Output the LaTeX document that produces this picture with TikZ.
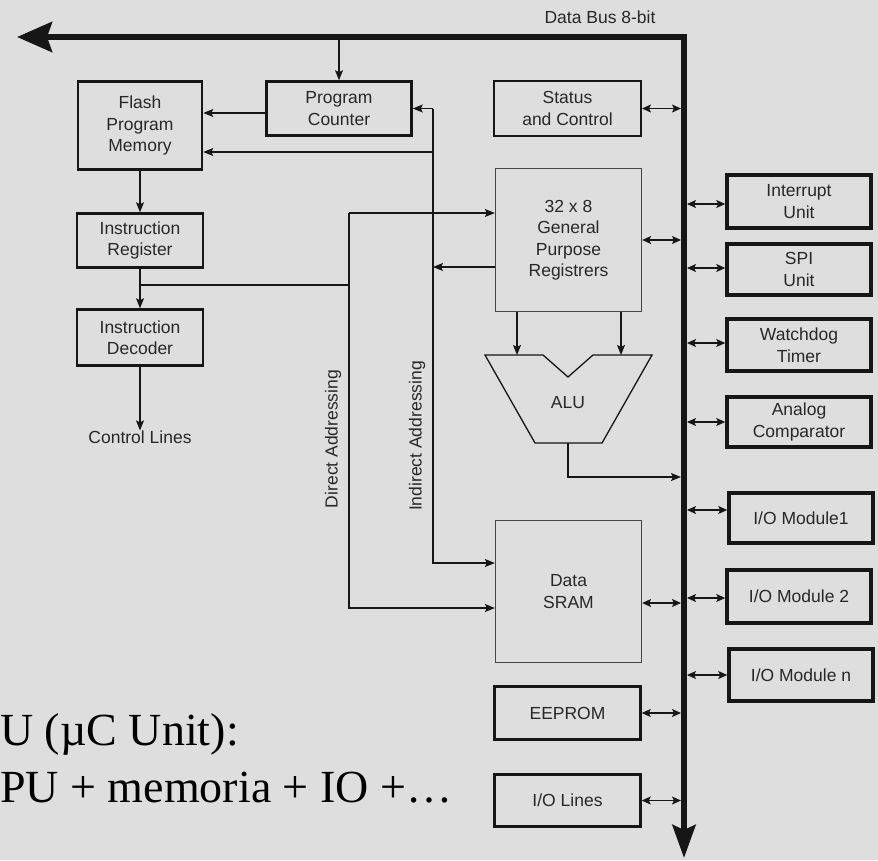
\documentclass[tikz,border=0pt]{standalone}
\usepackage{fontspec}
\newfontfamily\arialf{Liberation Sans}
\newfontfamily\seriff{Liberation Serif}
\usetikzlibrary{arrows.meta}
\definecolor{bg}{RGB}{222,222,222}
\definecolor{ink}{RGB}{22,22,22}
\definecolor{txt}{RGB}{40,40,40}
\begin{document}
\begin{tikzpicture}[x=1pt,y=-1pt,
  lbl/.style={font=\arialf\fontsize{17.5}{21.5}\selectfont, text=txt, align=center, inner sep=0pt},
  box/.style={lbl, draw=ink, line width=2.5pt},
  hbox/.style={lbl, draw=ink, line width=3.5pt},
  tbox/.style={lbl, draw=ink!80, line width=1.3pt},
  conn/.style={draw=ink, line width=1.2pt, -{Stealth[length=10pt,width=8pt,inset=2pt]}},
  plain/.style={draw=ink, line width=1.2pt},
  bid/.style={draw=ink, line width=1.2pt, {Stealth[length=9pt,width=8pt,inset=2pt]}-{Stealth[length=9pt,width=8pt,inset=2pt]}}
]
\useasboundingbox (0,0) rectangle (878,860);
\fill[bg] (0,0) rectangle (878,860);

% data bus
\coordinate (busW) at (17,37);
\coordinate (busC) at (684,37);
\coordinate (busS) at (684,858);
\coordinate (busL) at (681,0);
\coordinate (busR) at (687,0);
\coordinate (busB) at (0,40);
\draw[ink, line width=6pt, line join=miter,
  {Stealth[length=35pt,width=30pt,inset=5pt]}-{Stealth[length=33pt,width=23pt,inset=5pt]}]
  (busW) -- (busC) -- (busS);
\node[lbl] (dbus) at (600,17) {Data Bus 8-bit};

% left column
\node[box, minimum width=124pt, minimum height=88pt] (flash) at (140,125.5) {Flash\\Program\\Memory};
\node[box, minimum width=145pt, minimum height=54pt] (pc) at (339,108.5) {Program\\Counter};
\node[box, minimum width=126pt, minimum height=54pt] (ir) at (140,240.5) {Instruction\\Register};
\node[box, minimum width=126pt, minimum height=56pt] (id) at (140,337.5) {Instruction\\Decoder};
\node[lbl] (ctrl) at (140,437) {Control Lines};

% middle column
\node[box, line width=2pt, minimum width=147pt, minimum height=55pt] (status) at (567.5,108.5) {Status\\and Control};
\node[tbox, minimum width=146pt, minimum height=143pt] (gpr) at (568.5,240) {32 x 8\\General\\Purpose\\Registrers};
\node[tbox, minimum width=146pt, minimum height=142pt] (sram) at (568.5,591.5) {Data\\SRAM};
\node[box, minimum width=146pt, minimum height=53pt] (eeprom) at (567.5,713) {EEPROM};
\node[box, minimum width=146pt, minimum height=52pt] (iolines) at (567.5,800.5) {I/O Lines};

% ALU
\coordinate (aluA) at (485,355);
\coordinate (aluB) at (543,355);
\coordinate (aluN) at (568,377);
\coordinate (aluC) at (593,355);
\coordinate (aluD) at (652,355);
\coordinate (aluE) at (602,443);
\coordinate (aluF) at (535,443);
\draw[ink, line width=1.3pt, line join=miter] (aluA) -- (aluB) -- (aluN) -- (aluC) -- (aluD) -- (aluE) -- (aluF) -- cycle;
\node[lbl] (alu) at (568,403) {ALU};
\coordinate (aluIn1) at (517,355);
\coordinate (aluIn2) at (621,355);
\coordinate (aluOut) at (568,443);
\coordinate (aluBend) at (568,477);

% right column
\node[hbox, minimum width=144pt, minimum height=53pt] (intr) at (799,201.5) {Interrupt\\Unit};
\node[hbox, minimum width=144pt, minimum height=51pt] (spi) at (799,269.5) {SPI\\Unit};
\node[hbox, minimum width=144pt, minimum height=52pt] (wdt) at (799,345) {Watchdog\\Timer};
\node[hbox, minimum width=144pt, minimum height=50pt] (acomp) at (799,422) {Analog\\Comparator};
\node[hbox, minimum width=144pt, minimum height=50pt] (io1) at (801,518) {I/O Module1};
\node[hbox, minimum width=144pt, minimum height=53pt] (io2) at (799,596.5) {I/O Module 2};
\node[hbox, minimum width=144pt, minimum height=52pt] (ion) at (801,675) {I/O Module n};

% addressing labels
\node[lbl, rotate=90] (dal) at (333,439) {Direct Addressing};
\node[lbl, rotate=90] (ial) at (417,436) {Indirect Addressing};

% program flow
\draw[conn] (pc.north |- busB) -- (pc.north);
\draw[conn] ([yshift=-4.5pt]pc.west) -- ([yshift=-4.5pt]pc.west -| flash.east);
\draw[conn] (flash.south) -- (ir.north);
\draw[conn] (ir.south) -- (id.north);
\draw[conn] (id.south) -- (ctrl.north);

% indirect addressing
\coordinate (ia) at (433,108.5);
\coordinate (ib) at (433,152);
\coordinate (ic) at (433,563);
\draw[conn] (ia) -- (pc.east);
\draw[conn] (ib) -- (ib -| flash.east);
\draw[conn] (ia) -- (ic) -- (ic -| sram.west);
\draw[conn] ([yshift=-27pt]gpr.west) -- ([yshift=-27pt]gpr.west -| ia);

% direct addressing
\coordinate (da) at (349,213);
\coordinate (db) at (349,285);
\coordinate (dc) at (349,608);
\coordinate (dj) at (140,285);
\draw[plain] (dj) -- (db);
\draw[conn] (da) -- (da -| gpr.west);
\draw[conn] (da) -- (dc) -- (dc -| sram.west);

% registers to ALU
\draw[conn] (gpr.south -| aluIn1) -- (aluIn1);
\draw[conn] (gpr.south -| aluIn2) -- (aluIn2);
\draw[conn] (aluOut) -- (aluBend) -- (aluBend -| busL);

% bus connections, left side
\draw[bid] (status.east) -- (status.east -| busL);
\draw[bid] (gpr.east) -- (gpr.east -| busL);
\draw[bid] ([yshift=-11.5pt]sram.east) -- ([yshift=-11.5pt]sram.east -| busL);
\draw[bid] (eeprom.east) -- (eeprom.east -| busL);
\draw[bid] (iolines.east) -- (iolines.east -| busL);

% bus connections, right side
\draw[bid] ([yshift=-2.5pt]intr.west) -- ([yshift=-2.5pt]intr.west -| busR);
\draw[bid] ([yshift=1.5pt]spi.west) -- ([yshift=1.5pt]spi.west -| busR);
\draw[bid] ([yshift=2pt]wdt.west) -- ([yshift=2pt]wdt.west -| busR);
\draw[bid] (acomp.west) -- (acomp.west -| busR);
\draw[bid] ([yshift=8pt]io1.west) -- ([yshift=8pt]io1.west -| busR);
\draw[bid] ([yshift=-1.5pt]io2.west) -- ([yshift=-1.5pt]io2.west -| busR);
\draw[bid] (ion.west) -- (ion.west -| busR);

% caption text
\node[anchor=base west, inner sep=0pt, font=\seriff\fontsize{46}{55}\selectfont] (cap1) at (0,745) {U (µC Unit):};
\node[anchor=base west, inner sep=0pt, font=\seriff\fontsize{46}{55}\selectfont] (cap2) at (0,802) {PU + memoria + IO +…};
\end{tikzpicture}
\end{document}
